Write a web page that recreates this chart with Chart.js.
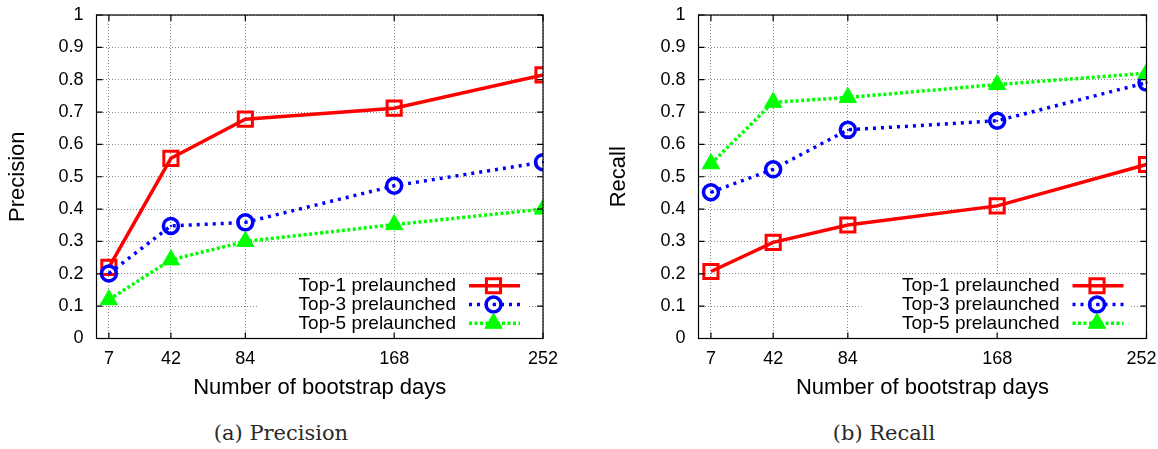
<!DOCTYPE html>
<html>
<head>
<meta charset="utf-8">
<script src="https://cdn.jsdelivr.net/npm/chart.js"></script>
<style>
  html, body { margin: 0; padding: 0; background: #fff; overflow: hidden; }
  body { width: 1158px; height: 449px; position: relative; }
  canvas { position: absolute; top: 0; }
  #precision { left: 0; }
  #recall { left: 580px; }
  .caption {
    position: absolute; top: 421px; width: 300px; text-align: center;
    font-family: "DejaVu Serif", "Liberation Serif", serif; font-size: 21px; color: #2a2a2a;
  }
</style>
</head>
<body>
<canvas id="precision" width="580" height="401"></canvas>
<canvas id="recall" width="600" height="401"></canvas>
<div class="caption" style="left:131px">(a) Precision</div>
<div class="caption" style="left:734px">(b) Recall</div>
<script>
const days = [7, 42, 84, 168, 252];
const xTicks = [7, 42, 84, 168, 252];
const seriesNames = ["Top-1 prelaunched", "Top-3 prelaunched", "Top-5 prelaunched"];

const precisionTop1 = [0.22, 0.557, 0.678, 0.712, 0.815];
const precisionTop3 = [0.201, 0.348, 0.359, 0.472, 0.545];
const precisionTop5 = [0.12, 0.243, 0.30, 0.352, 0.40];

const recallTop1 = [0.207, 0.297, 0.351, 0.41, 0.538];
const recallTop3 = [0.452, 0.523, 0.645, 0.673, 0.791];
const recallTop5 = [0.54, 0.73, 0.745, 0.785, 0.82];

const FONT = '"Liberation Sans", Arial, Helvetica, sans-serif';
Chart.defaults.font.family = FONT;
Chart.defaults.color = "#000";

// line/point looks, gnuplot style
const looks = [
    { color: "#ff0000", dash: [], width: 3.5, point: "rect", radius: 10, pw: 3, fill: "rgba(0,0,0,0)", order: 2 },
    { color: "#0000ff", dash: [3, 5], width: 3.5, point: "circle", radius: 7.5, pw: 3.5, fill: "rgba(0,0,0,0)", order: 1 },
    { color: "#00ff00", dash: [3, 2.5], width: 3.5, point: "triangle", radius: 10, pw: 1, fill: "#00ff00", order: 0 }
];

function makeDatasets(lists) {
    return lists.map((vals, i) => {
        const l = looks[i];
        return {
            label: seriesNames[i],
            data: days.map((d, j) => ({ x: d, y: vals[j] })),
            borderColor: l.color,
            borderWidth: l.width,
            borderDash: l.dash,
            pointStyle: l.point,
            pointRadius: l.radius,
            pointBorderWidth: l.pw,
            pointBorderColor: l.color,
            pointBackgroundColor: l.fill,
            order: l.order,
            tension: 0,
            fill: false
        };
    });
}

// dot in the middle of the circle points
const centerDots = {
    id: "centerDots",
    afterDatasetsDraw(chart) {
        const ctx = chart.ctx;
        chart.data.datasets.forEach((ds, i) => {
            if (ds.pointStyle !== "circle") return;
            chart.getDatasetMeta(i).data.forEach(pt => {
                ctx.save();
                ctx.fillStyle = ds.borderColor;
                ctx.fillRect(pt.x - 1, pt.y - 1, 2, 2);
                ctx.restore();
            });
        });
    }
};

// key box inside the plot, bottom right
const boxLegend = {
    id: "boxLegend",
    afterDatasetsDraw(chart) {
        const ctx = chart.ctx, a = chart.chartArea;
        ctx.save();
        ctx.fillStyle = "#fff";
        ctx.fillRect(a.right - 285, a.bottom - 62, 269, 61);
        ctx.font = "19px " + FONT;
        ctx.textAlign = "right";
        ctx.textBaseline = "middle";
        chart.data.datasets.forEach((ds, i) => {
            const y = a.bottom - 52.8 + i * 18.8;
            ctx.fillStyle = "#000";
            ctx.fillText(ds.label, a.right - 87, y);
            ctx.strokeStyle = ds.borderColor;
            ctx.lineWidth = ds.borderWidth;
            ctx.setLineDash(ds.borderDash);
            ctx.beginPath();
            ctx.moveTo(a.right - 74, y);
            ctx.lineTo(a.right - 23, y);
            ctx.stroke();
            ctx.setLineDash([]);
            ctx.fillStyle = ds.pointBackgroundColor;
            ctx.strokeStyle = ds.pointBorderColor;
            ctx.lineWidth = ds.pointBorderWidth;
            Chart.helpers.drawPoint(ctx, {
                pointStyle: ds.pointStyle, radius: ds.pointRadius,
                borderWidth: ds.pointBorderWidth, rotation: 0
            }, a.right - 49.5, y);
            if (ds.pointStyle === "circle") {
                ctx.fillStyle = ds.borderColor;
                ctx.fillRect(a.right - 50.5, y - 1, 2, 2);
            }
        });
        ctx.restore();
    }
};

// border box with inward tic marks
const frame = {
    id: "frame",
    afterDraw(chart) {
        const ctx = chart.ctx, a = chart.chartArea;
        const xs = chart.scales.x, ys = chart.scales.y;
        ctx.save();
        ctx.strokeStyle = "#000";
        ctx.lineWidth = 1.2;
        ctx.strokeRect(a.left, a.top, a.right - a.left, a.bottom - a.top);
        ctx.beginPath();
        ys.ticks.forEach(t => {
            const y = ys.getPixelForValue(t.value);
            ctx.moveTo(a.left, y); ctx.lineTo(a.left + 6, y);
            ctx.moveTo(a.right, y); ctx.lineTo(a.right - 6, y);
        });
        xs.ticks.forEach(t => {
            const x = xs.getPixelForValue(t.value);
            ctx.moveTo(x, a.bottom); ctx.lineTo(x, a.bottom - 6);
            ctx.moveTo(x, a.top); ctx.lineTo(x, a.top + 6);
        });
        ctx.stroke();
        ctx.restore();
    }
};

function makeChart(id, title, lists, yWidth, padRight, titlePad, nudgeLast) {
    return new Chart(document.getElementById(id), {
        type: "line",
        data: { datasets: makeDatasets(lists) },
        options: {
            responsive: false,
            animation: false,
            devicePixelRatio: 1,
            layout: { padding: { left: 0, right: padRight, top: 15, bottom: 0 } },
            plugins: { legend: { display: false }, tooltip: { enabled: false } },
            scales: {
                x: {
                    type: "linear",
                    min: 0,
                    max: 252,
                    afterBuildTicks: s => { s.ticks = xTicks.map(v => ({ value: v })); },
                    afterFit: s => { s.height = 401 - 338.5; s.paddingLeft = 0; s.paddingRight = 0; },
                    grid: { color: "#888", lineWidth: 1, drawTicks: false },
                    border: { display: false, dash: [1, 2] },
                    ticks: {
                        font: { size: 18 }, padding: 10, maxRotation: 0, autoSkip: false,
                        // keep the last label inside the page edge
                        callback: (v, i, t) => (nudgeLast && i === t.length - 1) ? v + "\u2007" : String(v)
                    },
                    title: { display: true, text: "Number of bootstrap days", font: { size: 22 }, padding: { top: 0, bottom: 0 } }
                },
                y: {
                    min: 0,
                    max: 1,
                    afterFit: s => { s.width = yWidth; s.paddingTop = 0; s.paddingBottom = 0; },
                    grid: { color: "#888", lineWidth: 1, drawTicks: false },
                    border: { display: false, dash: [1, 2] },
                    ticks: { stepSize: 0.1, font: { size: 18 }, padding: 13, callback: v => String(+v.toFixed(1)) },
                    title: { display: true, text: title, font: { size: 22 }, padding: { top: titlePad, bottom: 0 } }
                }
            }
        },
        plugins: [centerDots, boxLegend, frame]
    });
}

makeChart("precision", "Precision", [precisionTop1, precisionTop3, precisionTop5], 96.5, 37, 4.4, false);
makeChart("recall", "Recall", [recallTop1, recallTop3, recallTop5], 118.5, 33.5, 25.3, true);
</script>
</body>
</html>
